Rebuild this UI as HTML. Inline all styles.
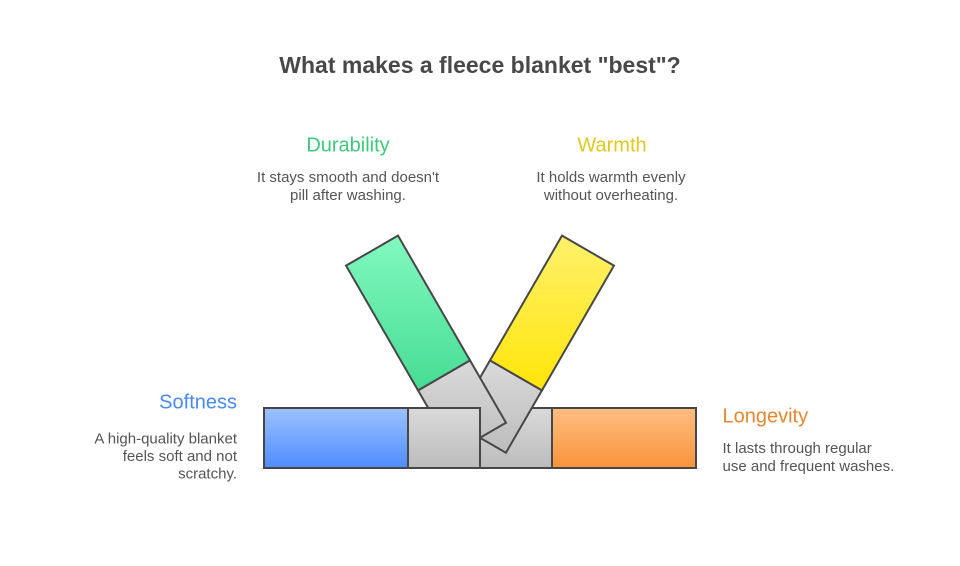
<!DOCTYPE html>
<html>
<head>
<meta charset="utf-8">
<style>
  html, body { margin: 0; padding: 0; background: #ffffff; }
  svg { display: block; }
  text { font-family: "Liberation Sans", Arial, sans-serif; }
</style>
</head>
<body>
<svg width="960" height="566" viewBox="0 0 960 566" xmlns="http://www.w3.org/2000/svg">
  <defs>
    <linearGradient id="gBlue" x1="0" y1="0" x2="0" y2="1">
      <stop offset="0" stop-color="#9cc2ff"/>
      <stop offset="1" stop-color="#4f8cff"/>
    </linearGradient>
    <linearGradient id="gOrange" x1="0" y1="0" x2="0" y2="1">
      <stop offset="0" stop-color="#ffbd82"/>
      <stop offset="1" stop-color="#fa943b"/>
    </linearGradient>
    <linearGradient id="gGreen" x1="0" y1="0" x2="0" y2="1">
      <stop offset="0" stop-color="#82f9c0"/>
      <stop offset="1" stop-color="#46dc93"/>
    </linearGradient>
    <linearGradient id="gYellow" x1="0" y1="0" x2="0" y2="1">
      <stop offset="0" stop-color="#fff16c"/>
      <stop offset="1" stop-color="#ffe508"/>
    </linearGradient>
    <linearGradient id="gGray" x1="0" y1="0" x2="0" y2="1">
      <stop offset="0" stop-color="#dadada"/>
      <stop offset="1" stop-color="#bcbcbc"/>
    </linearGradient>
  </defs>

  <!-- Title -->
  <text x="480" y="73" text-anchor="middle" font-size="23" font-weight="bold" fill="#484848">What makes a fleece blanket "best"?</text>

  <!-- Durability -->
  <text x="348" y="151.5" text-anchor="middle" font-size="20" fill="#3dc87b">Durability</text>
  <text x="348" y="182" text-anchor="middle" font-size="15" fill="#555555">It stays smooth and doesn't</text>
  <text x="348" y="200" text-anchor="middle" font-size="15" fill="#555555">pill after washing.</text>

  <!-- Warmth -->
  <text x="612" y="151.5" text-anchor="middle" font-size="20" fill="#e1c81e">Warmth</text>
  <text x="611" y="182" text-anchor="middle" font-size="15" fill="#555555">It holds warmth evenly</text>
  <text x="611" y="200" text-anchor="middle" font-size="15" fill="#555555">without overheating.</text>

  <!-- Softness -->
  <text x="237" y="408.5" text-anchor="end" font-size="20" fill="#4a8af0">Softness</text>
  <text x="237" y="443.5" text-anchor="end" font-size="15" fill="#555555">A high-quality blanket</text>
  <text x="237" y="461" text-anchor="end" font-size="15" fill="#555555">feels soft and not</text>
  <text x="237" y="478.5" text-anchor="end" font-size="15" fill="#555555">scratchy.</text>

  <!-- Longevity -->
  <text x="722.5" y="422.5" font-size="20" fill="#e8862f">Longevity</text>
  <text x="722.5" y="453" font-size="15" fill="#555555">It lasts through regular</text>
  <text x="722.5" y="471" font-size="15" fill="#555555">use and frequent washes.</text>

  <g stroke="#474747" stroke-width="2" stroke-linejoin="miter">
    <!-- Orange stick (bottom layer) -->
    <rect x="480" y="408" width="72" height="60" fill="url(#gGray)"/>
    <rect x="552" y="408" width="144" height="60" fill="url(#gOrange)"/>

    <!-- Yellow stick -->
    <polygon points="490,360.4 541.96,390.4 505.96,452.7 454,422.7" fill="url(#gGray)"/>
    <polygon points="562,235.64 613.96,265.64 541.96,390.4 490,360.4" fill="url(#gYellow)"/>

    <!-- Green stick -->
    <polygon points="418.04,390.4 470,360.4 506,422.7 454.04,452.7" fill="url(#gGray)"/>
    <polygon points="346.04,265.64 398,235.64 470,360.4 418.04,390.4" fill="url(#gGreen)"/>

    <!-- Blue stick (top layer) -->
    <rect x="264" y="408" width="144" height="60" fill="url(#gBlue)"/>
    <rect x="408" y="408" width="72" height="60" fill="url(#gGray)"/>
  </g>
</svg>
</body>
</html>
